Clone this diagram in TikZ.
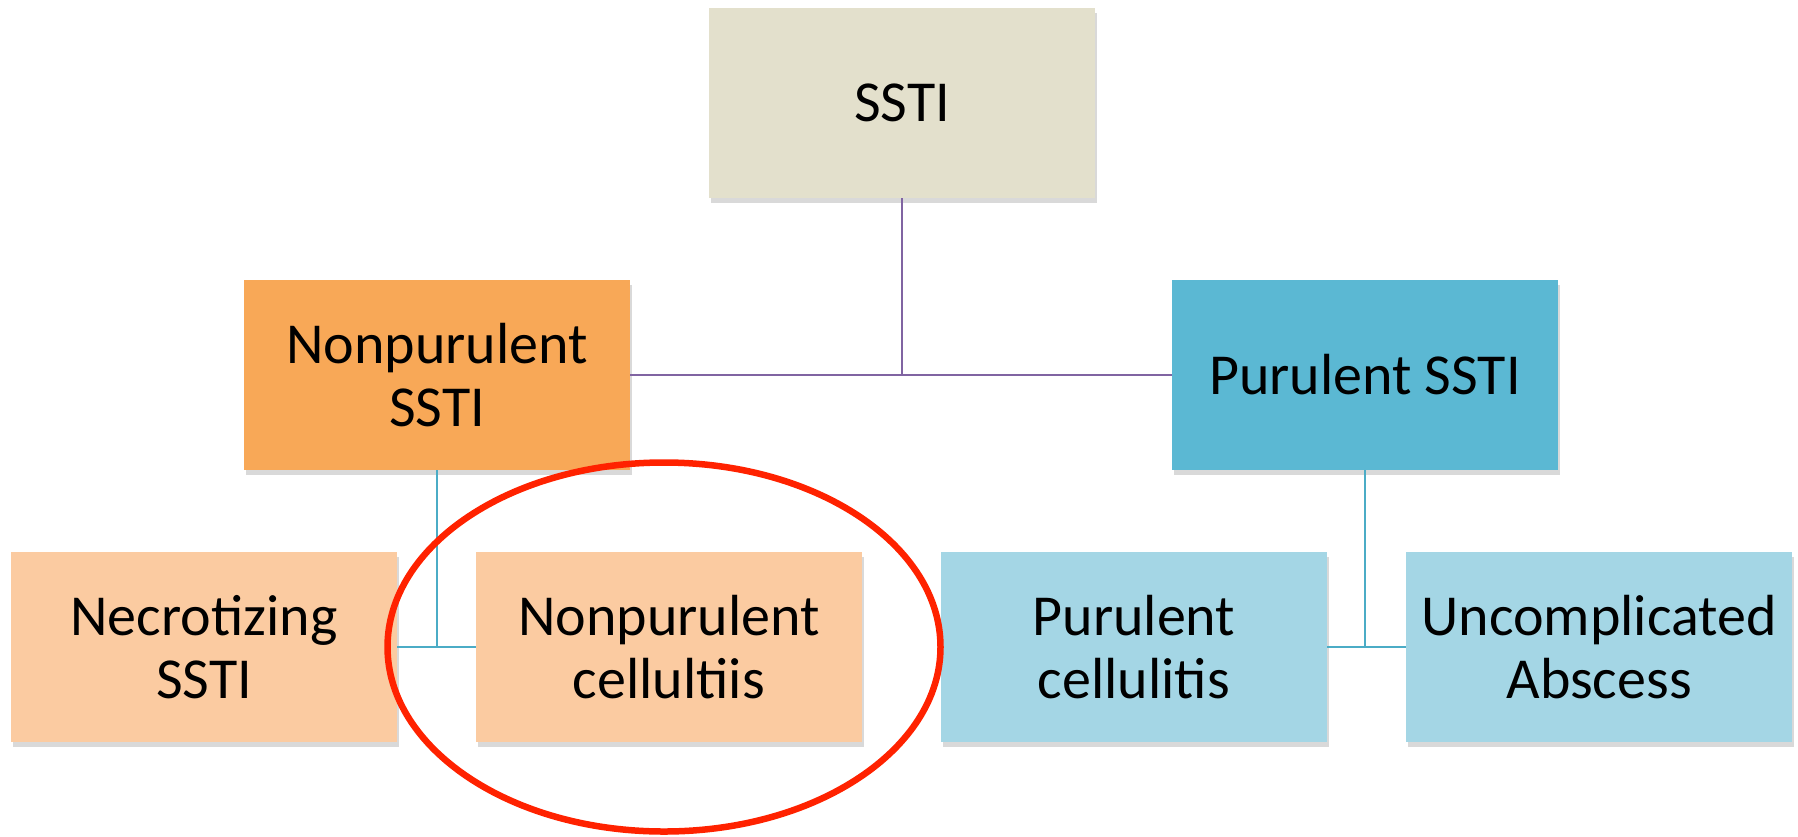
\documentclass[tikz,border=0pt]{standalone}
\usepackage{fontspec}
\setmainfont{Carlito}
\usetikzlibrary{shadows,shapes.geometric}
\definecolor{topbox}{HTML}{E3E0CC}
\definecolor{orangemid}{HTML}{F8A857}
\definecolor{orangelow}{HTML}{FBCBA1}
\definecolor{bluemid}{HTML}{5BB8D3}
\definecolor{bluelow}{HTML}{A4D6E5}
\definecolor{purpleline}{HTML}{8064A2}
\definecolor{blueline}{HTML}{4BACC6}
\definecolor{ringred}{HTML}{FF2200}
\tikzset{
  catbox/.style={minimum width=386pt, minimum height=190pt, inner sep=0pt, align=center,
    font=\fontsize{58}{63}\selectfont,
    drop shadow={opacity=0.3, shadow xshift=2pt, shadow yshift=-5pt}},
  purplelink/.style={draw=purpleline, line width=1.6pt},
  bluelink/.style={draw=blueline, line width=1.6pt},
}
\begin{document}
\begin{tikzpicture}[x=1pt,y=-1pt]
\useasboundingbox (0,0) rectangle (1798,836);
\node[catbox, fill=topbox] (ssti) at (902,103) {SSTI};
\node[catbox, fill=orangemid] (nps) at (437,375) {Nonpurulent\\SSTI};
\node[catbox, fill=bluemid] (ps) at (1365,375) {Purulent SSTI};
\node[catbox, fill=orangelow] (nec) at (204,647) {Necrotizing\\SSTI};
\node[catbox, fill=orangelow] (npc) at (669,647) {Nonpurulent\\cellultiis};
\node[catbox, fill=bluelow] (pc) at (1134,647) {Purulent\\cellulitis};
\node[catbox, fill=bluelow] (ua) at (1599,647) {Uncomplicated\\Abscess};
\coordinate (topj) at (ssti.south |- nps.east);
\coordinate (leftj) at (nps.south |- nec.east);
\coordinate (rightj) at (ps.south |- pc.east);
\draw[purplelink] (ssti.south) -- (topj);
\draw[purplelink] (nps.east) -- (ps.west);
\draw[bluelink] (nps.south) -- (leftj);
\draw[bluelink] (nec.east) -- (npc.west);
\draw[bluelink] (ps.south) -- (rightj);
\draw[bluelink] (pc.east) -- (ua.west);
\node[draw=ringred, line width=6.5pt, ellipse, minimum width=553pt, minimum height=369pt, inner sep=0pt] (ring) at (664,647) {};
\end{tikzpicture}
\end{document}
